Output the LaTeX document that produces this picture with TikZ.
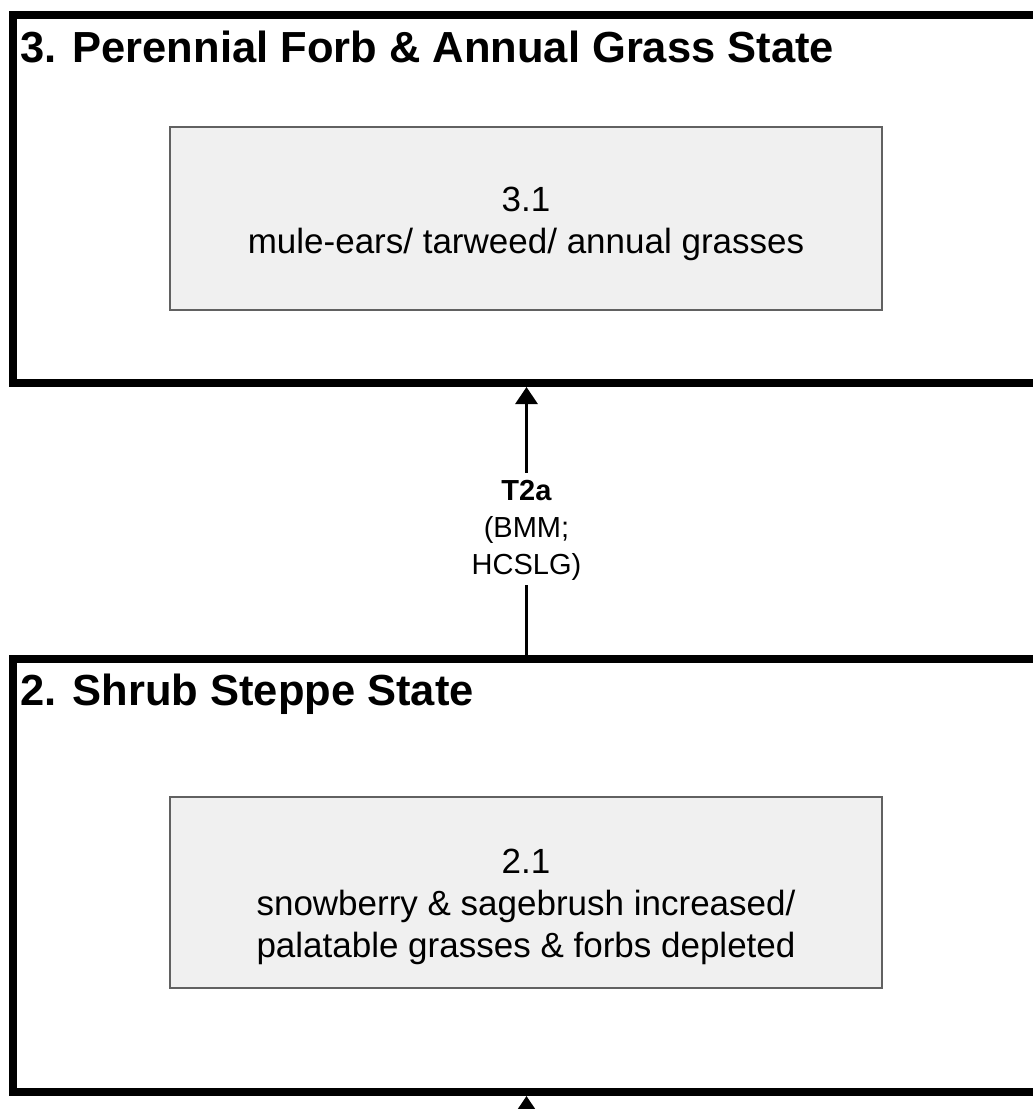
\documentclass[tikz,border=0pt]{standalone}
\usepackage{fontspec}
\setmainfont{Liberation Sans}
\usetikzlibrary{arrows.meta}

\begin{document}
\begin{tikzpicture}[x=1pt, y=-1pt,
	statebox/.style={draw=black, line width=8pt, minimum width=1027pt, inner sep=0pt},
	phasebox/.style={draw=black!62, line width=2.5pt, fill=black!6, minimum width=712pt, inner sep=0pt, text depth=0pt, align=center, font=\fontsize{35}{42}\selectfont},
	statetitle/.style={anchor=base west, inner sep=0pt, font=\fontsize{43.5}{50}\bfseries\selectfont},
	trans/.style={line width=3pt, -{Triangle[length=17pt,width=22pt]}},
	translabel/.style={fill=white, align=center, inner sep=0pt, text height=101pt, text depth=11pt, font=\fontsize{29}{37}\selectfont}]
			%%%%% START %%%%%
			
			\useasboundingbox (0, 0) rectangle (1033, 1109);
			
			% state 3
			\node[statebox, minimum height=368pt] (s3) at (526.5, 199) {};
			\node[statetitle] (s3title) at (20, 62) {3. Perennial Forb \& Annual Grass State};
			\node[phasebox, minimum height=183pt, text height=69pt] (p31) at (526, 218.5) {3.1\\mule-ears/ tarweed/ annual grasses};
			
			% state 2
			\node[statebox, minimum height=433pt] (s2) at (526.5, 875.5) {};
			\node[statetitle] (s2title) at (20, 705) {2. Shrub Steppe State};
			\node[phasebox, minimum height=191pt, text height=129pt] (p21) at (526, 892.5) {2.1\\snowberry \& sagebrush increased/\\palatable grasses \& forbs depleted};
			
			% transitions
			\draw[trans] (s2.north) -- node[translabel, pos=0.47] (t2a) {\textbf{T2a}\\(BMM;\\HCSLG)} (s3.south);
			\coordinate (from1) at (526.5, 1140);
			\draw[trans] (from1) -- (s2.south);
			
			%%%%% END %%%%%
\end{tikzpicture}
\end{document}
